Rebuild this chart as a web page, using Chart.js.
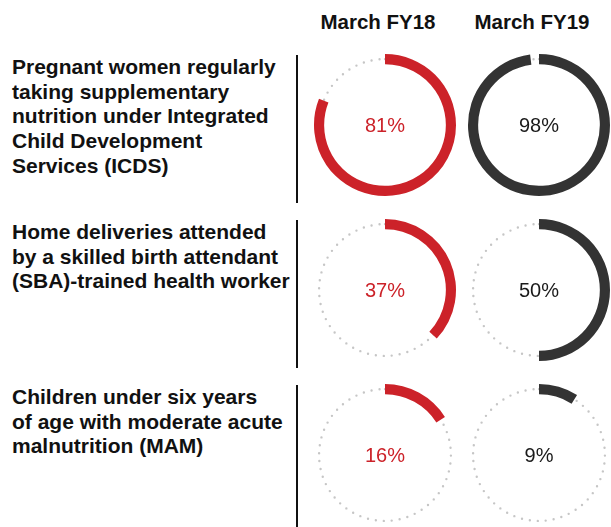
<!DOCTYPE html>
<html>
<head>
<meta charset="utf-8">
<script src="https://cdn.jsdelivr.net/npm/chart.js@4"></script>
<style>
  body { margin: 0; background: #fff; }
  #wrap { position: relative; width: 611px; height: 527px; overflow: hidden; font-family: "Liberation Sans", Arial, sans-serif; }
  .label { position: absolute; left: 12px; width: 284px; font-weight: bold; font-size: 21px; line-height: 24.7px; color: #111; white-space: nowrap; }
  .head { position: absolute; top: 10px; width: 160px; text-align: center; font-weight: bold; font-size: 20.5px; color: #111; }
  .rule { position: absolute; left: 296px; width: 2px; background: #111; }
  .ring { position: absolute; width: 144px; height: 144px; }
</style>
</head>
<body>
<div id="wrap"></div>
<script>
var categories = [
  'Pregnant women regularly taking supplementary nutrition under Integrated Child Development Services (ICDS)',
  'Home deliveries attended by a skilled birth attendant (SBA)-trained health worker',
  'Children under six years of age with moderate acute malnutrition (MAM)'
];
var labelLines = [
  ['Pregnant women regularly', 'taking supplementary', 'nutrition under Integrated', 'Child Development', 'Services (ICDS)'],
  ['Home deliveries attended', 'by a skilled birth attendant', '(SBA)-trained health worker'],
  ['Children under six years', 'of age with moderate acute', 'malnutrition (MAM)']
];
var periods = ['March FY18', 'March FY19'];
var fy18 = [81, 37, 16];
var fy19 = [98, 50, 9];
var seriesColors = ['#cc2229', '#333333'];
var textColors = ['#cc2229', '#1a1a1a'];

var wrap = document.getElementById('wrap');
var colX = [385, 539];
var headX = [378, 532];
var rowY = [125, 290, 455];

periods.forEach(function (p, i) {
  var h = document.createElement('div');
  h.className = 'head';
  h.style.left = (headX[i] - 80) + 'px';
  h.textContent = p;
  wrap.appendChild(h);
});

labelLines.forEach(function (lines, r) {
  var d = document.createElement('div');
  d.className = 'label';
  d.style.top = (rowY[r] - 70) + 'px';
  d.title = categories[r];
  d.innerHTML = lines.join('<br>');
  wrap.appendChild(d);
  var rule = document.createElement('div');
  rule.className = 'rule';
  rule.style.top = (rowY[r] - 70) + 'px';
  rule.style.height = '148px';
  wrap.appendChild(rule);
});

var ringPlugin = {
  id: 'ringDeco',
  beforeDatasetsDraw: function (chart) {
    var arc = chart.getDatasetMeta(0).data[0];
    var ctx = chart.ctx;
    ctx.save();
    ctx.strokeStyle = '#c6c6c6';
    ctx.lineWidth = 2.4;
    ctx.lineCap = 'round';
    ctx.setLineDash([0, 8]);
    ctx.beginPath();
    ctx.arc(arc.x, arc.y, (arc.innerRadius + arc.outerRadius) / 2, -Math.PI / 2, Math.PI * 1.5);
    ctx.stroke();
    ctx.restore();
  },
  afterDatasetsDraw: function (chart, args, opts) {
    var arc = chart.getDatasetMeta(0).data[0];
    var ctx = chart.ctx;
    ctx.save();
    ctx.fillStyle = opts.color;
    ctx.font = '20px "Liberation Sans", Arial, sans-serif';
    ctx.textAlign = 'center';
    ctx.textBaseline = 'middle';
    ctx.fillText(opts.text, arc.x, arc.y + 1);
    ctx.restore();
  }
};

[fy18, fy19].forEach(function (series, c) {
  series.forEach(function (v, r) {
    var box = document.createElement('div');
    box.className = 'ring';
    box.style.left = (colX[c] - 72) + 'px';
    box.style.top = (rowY[r] - 72) + 'px';
    var cv = document.createElement('canvas');
    box.appendChild(cv);
    wrap.appendChild(box);
    new Chart(cv, {
      type: 'doughnut',
      data: {
        labels: [periods[c], ''],
        datasets: [{
          data: [v, 100 - v],
          backgroundColor: [seriesColors[c], 'rgba(0,0,0,0)'],
          borderWidth: 0,
          hoverOffset: 0
        }]
      },
      options: {
        responsive: true,
        maintainAspectRatio: false,
        animation: false,
        cutout: '85.7%',
        layout: { padding: 1 },
        events: [],
        plugins: {
          legend: { display: false },
          tooltip: { enabled: false },
          ringDeco: { text: v + '%', color: textColors[c] }
        }
      },
      plugins: [ringPlugin]
    });
  });
});
</script>
</body>
</html>
